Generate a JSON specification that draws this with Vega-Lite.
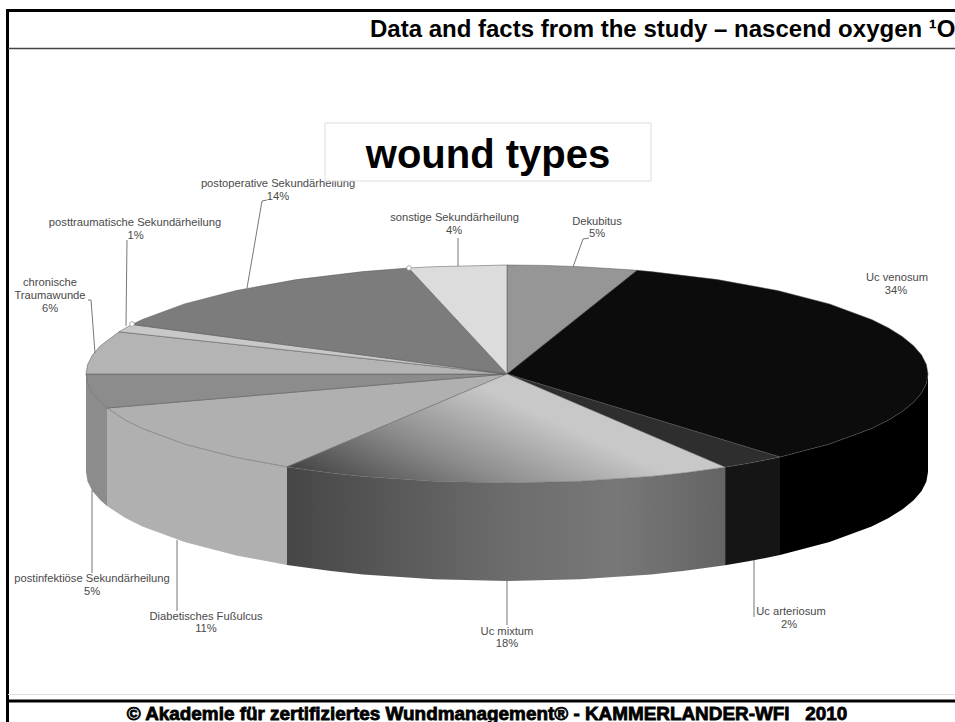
{"$schema":"https://vega.github.io/schema/vega-lite/v6.json","width":955,"height":722,"padding":0,"autosize":{"type":"none"},"background":"white","view":{"stroke":null},
"datasets":{
"wall":[
{"s":"Uc venosum","x":928,"y":374,"y2":472},{"s":"Uc venosum","x":926.4,"y":383.5,"y2":481.5},{"s":"Uc venosum","x":921.6,"y":392.9,"y2":490.9},{"s":"Uc venosum","x":913.6,"y":402.2,"y2":500.2},{"s":"Uc venosum","x":902.6,"y":411.3,"y2":509.3},{"s":"Uc venosum","x":888.6,"y":420.1,"y2":518.1},{"s":"Uc venosum","x":871.6,"y":428.5,"y2":526.5},{"s":"Uc venosum","x":829.5,"y":444.1,"y2":542.1},{"s":"Uc venosum","x":780,"y":457.1,"y2":555.1},
{"s":"Uc arteriosum","x":780,"y":457.1,"y2":555.1},{"s":"Uc arteriosum","x":748.5,"y":463.3,"y2":561.3},{"s":"Uc arteriosum","x":725.1,"y":467.2,"y2":565.2},
{"s":"Uc mixtum","x":725.1,"y":467.2,"y2":565.2},{"s":"Uc mixtum","x":684.9,"y":472.8,"y2":570.8},{"s":"Uc mixtum","x":651,"y":476.4,"y2":574.4},{"s":"Uc mixtum","x":580.1,"y":481.3,"y2":579.3},{"s":"Uc mixtum","x":507,"y":483,"y2":581},{"s":"Uc mixtum","x":433.9,"y":481.3,"y2":579.3},{"s":"Uc mixtum","x":363,"y":476.4,"y2":574.4},{"s":"Uc mixtum","x":329.1,"y":472.8,"y2":570.8},{"s":"Uc mixtum","x":287,"y":466.9,"y2":564.9},
{"s":"Diabetisches Fußulcus","x":287,"y":466.9,"y2":564.9},{"s":"Diabetisches Fußulcus","x":236.4,"y":457.5,"y2":555.5},{"s":"Diabetisches Fußulcus","x":184.5,"y":444.1,"y2":542.1},{"s":"Diabetisches Fußulcus","x":142.4,"y":428.5,"y2":526.5},{"s":"Diabetisches Fußulcus","x":125.4,"y":420.1,"y2":518.1},{"s":"Diabetisches Fußulcus","x":107,"y":408,"y2":506},
{"s":"postinfektiöse Sekundärheilung","x":107,"y":408,"y2":506},{"s":"postinfektiöse Sekundärheilung","x":100.4,"y":402.2,"y2":500.2},{"s":"postinfektiöse Sekundärheilung","x":92.4,"y":392.9,"y2":490.9},{"s":"postinfektiöse Sekundärheilung","x":87.6,"y":383.5,"y2":481.5},{"s":"postinfektiöse Sekundärheilung","x":86,"y":374,"y2":472}
],
"top":[
{"s":"Dekubitus","i":0,"x":507,"y":374},{"s":"Dekubitus","i":1,"x":507,"y":265},{"s":"Dekubitus","i":2,"x":543.7,"y":265.4},{"s":"Dekubitus","i":3,"x":580.1,"y":266.7},{"s":"Dekubitus","i":4,"x":637.1,"y":270.3},{"s":"Dekubitus","i":5,"x":507,"y":374},
{"s":"Uc venosum","i":0,"x":507,"y":374},{"s":"Uc venosum","i":1,"x":637.1,"y":270.3},{"s":"Uc venosum","i":2,"x":651,"y":271.6},{"s":"Uc venosum","i":3,"x":717.5,"y":279.6},{"s":"Uc venosum","i":4,"x":777.6,"y":290.5},{"s":"Uc venosum","i":5,"x":829.5,"y":303.9},{"s":"Uc venosum","i":6,"x":871.6,"y":319.5},{"s":"Uc venosum","i":7,"x":888.6,"y":327.9},{"s":"Uc venosum","i":8,"x":902.6,"y":336.7},{"s":"Uc venosum","i":9,"x":913.6,"y":345.8},{"s":"Uc venosum","i":10,"x":921.6,"y":355.1},{"s":"Uc venosum","i":11,"x":926.4,"y":364.5},{"s":"Uc venosum","i":12,"x":928,"y":374},{"s":"Uc venosum","i":13,"x":926.4,"y":383.5},{"s":"Uc venosum","i":14,"x":921.6,"y":392.9},{"s":"Uc venosum","i":15,"x":913.6,"y":402.2},{"s":"Uc venosum","i":16,"x":902.6,"y":411.3},{"s":"Uc venosum","i":17,"x":888.6,"y":420.1},{"s":"Uc venosum","i":18,"x":871.6,"y":428.5},{"s":"Uc venosum","i":19,"x":829.5,"y":444.1},{"s":"Uc venosum","i":20,"x":780,"y":457.1},{"s":"Uc venosum","i":21,"x":507,"y":374},
{"s":"Uc arteriosum","i":0,"x":507,"y":374},{"s":"Uc arteriosum","i":1,"x":780,"y":457.1},{"s":"Uc arteriosum","i":2,"x":748.5,"y":463.3},{"s":"Uc arteriosum","i":3,"x":725.1,"y":467.2},{"s":"Uc arteriosum","i":4,"x":507,"y":374},
{"s":"Uc mixtum","i":0,"x":507,"y":374},{"s":"Uc mixtum","i":1,"x":725.1,"y":467.2},{"s":"Uc mixtum","i":2,"x":684.9,"y":472.8},{"s":"Uc mixtum","i":3,"x":651,"y":476.4},{"s":"Uc mixtum","i":4,"x":580.1,"y":481.3},{"s":"Uc mixtum","i":5,"x":507,"y":483},{"s":"Uc mixtum","i":6,"x":433.9,"y":481.3},{"s":"Uc mixtum","i":7,"x":363,"y":476.4},{"s":"Uc mixtum","i":8,"x":329.1,"y":472.8},{"s":"Uc mixtum","i":9,"x":287,"y":466.9},{"s":"Uc mixtum","i":10,"x":507,"y":374},
{"s":"Diabetisches Fußulcus","i":0,"x":507,"y":374},{"s":"Diabetisches Fußulcus","i":1,"x":287,"y":466.9},{"s":"Diabetisches Fußulcus","i":2,"x":236.4,"y":457.5},{"s":"Diabetisches Fußulcus","i":3,"x":184.5,"y":444.1},{"s":"Diabetisches Fußulcus","i":4,"x":142.4,"y":428.5},{"s":"Diabetisches Fußulcus","i":5,"x":125.4,"y":420.1},{"s":"Diabetisches Fußulcus","i":6,"x":107,"y":408},{"s":"Diabetisches Fußulcus","i":7,"x":507,"y":374},
{"s":"postinfektiöse Sekundärheilung","i":0,"x":507,"y":374},{"s":"postinfektiöse Sekundärheilung","i":1,"x":107,"y":408},{"s":"postinfektiöse Sekundärheilung","i":2,"x":100.4,"y":402.2},{"s":"postinfektiöse Sekundärheilung","i":3,"x":92.4,"y":392.9},{"s":"postinfektiöse Sekundärheilung","i":4,"x":87.6,"y":383.5},{"s":"postinfektiöse Sekundärheilung","i":5,"x":86,"y":374},{"s":"postinfektiöse Sekundärheilung","i":6,"x":507,"y":374},
{"s":"chronische Traumawunde","i":0,"x":507,"y":374},{"s":"chronische Traumawunde","i":1,"x":86,"y":374},{"s":"chronische Traumawunde","i":2,"x":87.6,"y":364.5},{"s":"chronische Traumawunde","i":3,"x":92.4,"y":355.1},{"s":"chronische Traumawunde","i":4,"x":100.4,"y":345.8},{"s":"chronische Traumawunde","i":5,"x":119,"y":331.8},{"s":"chronische Traumawunde","i":6,"x":507,"y":374},
{"s":"posttraumatische Sekundärheilung","i":0,"x":507,"y":374},{"s":"posttraumatische Sekundärheilung","i":1,"x":119,"y":331.8},{"s":"posttraumatische Sekundärheilung","i":2,"x":131.9,"y":324.5},{"s":"posttraumatische Sekundärheilung","i":3,"x":507,"y":374},
{"s":"postoperative Sekundärheilung","i":0,"x":507,"y":374},{"s":"postoperative Sekundärheilung","i":1,"x":131.9,"y":324.5},{"s":"postoperative Sekundärheilung","i":2,"x":142.4,"y":319.5},{"s":"postoperative Sekundärheilung","i":3,"x":184.5,"y":303.9},{"s":"postoperative Sekundärheilung","i":4,"x":236.4,"y":290.5},{"s":"postoperative Sekundärheilung","i":5,"x":296.5,"y":279.6},{"s":"postoperative Sekundärheilung","i":6,"x":363,"y":271.6},{"s":"postoperative Sekundärheilung","i":7,"x":408.7,"y":268},{"s":"postoperative Sekundärheilung","i":8,"x":507,"y":374},
{"s":"sonstige Sekundärheilung","i":0,"x":507,"y":374},{"s":"sonstige Sekundärheilung","i":1,"x":408.7,"y":268},{"s":"sonstige Sekundärheilung","i":2,"x":433.9,"y":266.7},{"s":"sonstige Sekundärheilung","i":3,"x":507,"y":265},{"s":"sonstige Sekundärheilung","i":4,"x":507,"y":374}
],
"leaders":[
{"s":"postoperative","i":0,"x":247,"y":288},{"s":"postoperative","i":1,"x":262,"y":201},{"s":"postoperative","i":2,"x":267,"y":200},
{"s":"posttraumatische","i":0,"x":126,"y":326},{"s":"posttraumatische","i":1,"x":127,"y":240},
{"s":"chronische","i":0,"x":95,"y":353},{"s":"chronische","i":1,"x":91,"y":300},{"s":"chronische","i":2,"x":88,"y":300},
{"s":"sonstige","i":0,"x":458,"y":266},{"s":"sonstige","i":1,"x":458,"y":238},
{"s":"Dekubitus","i":0,"x":573,"y":267},{"s":"Dekubitus","i":1,"x":583,"y":239},{"s":"Dekubitus","i":2,"x":589,"y":238},
{"s":"mixtum","i":0,"x":507,"y":581},{"s":"mixtum","i":1,"x":507,"y":625},
{"s":"arteriosum","i":0,"x":754,"y":560},{"s":"arteriosum","i":1,"x":754,"y":617},
{"s":"Diabetisches","i":0,"x":177,"y":540},{"s":"Diabetisches","i":1,"x":177,"y":611},
{"s":"postinfektiöse","i":0,"x":92,"y":490},{"s":"postinfektiöse","i":1,"x":92,"y":573}
],
"dots":[{"x":132,"y":324},{"x":409,"y":268}],
"labels":[
{"t":"postoperative Sekundärheilung","x":278,"y":184},{"t":"14%","x":278,"y":197},
{"t":"posttraumatische Sekundärheilung","x":135,"y":223},{"t":"1%","x":135.5,"y":236},
{"t":"chronische","x":50,"y":283},{"t":"Traumawunde","x":50,"y":296},{"t":"6%","x":50,"y":309},
{"t":"sonstige Sekundärheilung","x":454.5,"y":218},{"t":"4%","x":454,"y":231},
{"t":"Dekubitus","x":597,"y":221.5},{"t":"5%","x":597,"y":234},
{"t":"Uc venosum","x":897,"y":278},{"t":"34%","x":896,"y":291},
{"t":"Uc arteriosum","x":791,"y":612},{"t":"2%","x":789,"y":625},
{"t":"Uc mixtum","x":507,"y":632},{"t":"18%","x":507,"y":644},
{"t":"Diabetisches Fußulcus","x":206,"y":617},{"t":"11%","x":206,"y":629},
{"t":"postinfektiöse Sekundärheilung","x":92,"y":579},{"t":"5%","x":92,"y":592}
]
},
"encoding":{},
"layer":[
{"data":{"name":"wall"},"transform":[{"filter":"datum.s !== 'Uc mixtum'"}],"mark":{"type":"area","orient":"vertical"},"encoding":{
"x":{"field":"x","type":"quantitative","scale":{"domain":[0,955],"nice":false,"zero":false},"axis":null},
"y":{"field":"y","type":"quantitative","scale":{"domain":[722,0],"nice":false,"zero":false},"axis":null},
"y2":{"field":"y2"},
"fill":{"field":"s","type":"nominal","legend":null,"scale":{"domain":["Uc venosum","Uc arteriosum","Diabetisches Fußulcus","postinfektiöse Sekundärheilung"],"range":["#000000","#151515","#b0b0b0","#8c8c8c"]}}}},
{"data":{"name":"wall"},"transform":[{"filter":"datum.s === 'Uc mixtum'"}],"mark":{"type":"area","orient":"vertical","fill":{"gradient":"linear","x1":0,"y1":0,"x2":1,"y2":0,"stops":[{"offset":0,"color":"#464646"},{"offset":0.5,"color":"#6c6c6c"},{"offset":0.75,"color":"#787878"},{"offset":1,"color":"#646464"}]}},"encoding":{
"x":{"field":"x","type":"quantitative","scale":{"domain":[0,955],"nice":false,"zero":false},"axis":null},
"y":{"field":"y","type":"quantitative","scale":{"domain":[722,0],"nice":false,"zero":false},"axis":null},
"y2":{"field":"y2"}}},
{"data":{"name":"top"},"transform":[{"filter":"datum.s !== 'Uc mixtum'"}],"mark":{"type":"line","stroke":"#555555","strokeWidth":0.5,"strokeJoin":"round"},"encoding":{
"x":{"field":"x","type":"quantitative","axis":null},
"y":{"field":"y","type":"quantitative","axis":null},
"order":{"field":"i","type":"quantitative"},
"detail":{"field":"s","type":"nominal"},
"fill":{"field":"s","type":"nominal","legend":null,"scale":{"domain":["Dekubitus","Uc venosum","Uc arteriosum","Diabetisches Fußulcus","postinfektiöse Sekundärheilung","chronische Traumawunde","posttraumatische Sekundärheilung","postoperative Sekundärheilung","sonstige Sekundärheilung"],"range":["#969696","#0c0c0c","#2e2e2e","#b0b0b0","#8c8c8c","#b4b4b4","#c8c8c8","#7c7c7c","#dcdcdc"]}}}},
{"data":{"name":"top"},"transform":[{"filter":"datum.s === 'Uc mixtum'"}],"mark":{"type":"line","stroke":"#666666","strokeWidth":0.5,"fill":{"gradient":"linear","x1":0,"y1":0.855,"x2":0.65,"y2":0.506,"stops":[{"offset":0,"color":"#444444"},{"offset":0.5,"color":"#8c8c8c"},{"offset":1,"color":"#c8c8c8"}]}},"encoding":{
"x":{"field":"x","type":"quantitative","axis":null},
"y":{"field":"y","type":"quantitative","axis":null},
"order":{"field":"i","type":"quantitative"}}},
{"data":{"name":"leaders"},"mark":{"type":"line","stroke":"#777777","strokeWidth":1},"encoding":{
"x":{"field":"x","type":"quantitative","axis":null},
"y":{"field":"y","type":"quantitative","axis":null},
"order":{"field":"i","type":"quantitative"},
"detail":{"field":"s","type":"nominal"}}},
{"data":{"name":"dots"},"mark":{"type":"point","filled":true,"fill":"white","stroke":"#999999","strokeWidth":0.8,"size":22,"opacity":1},"encoding":{
"x":{"field":"x","type":"quantitative","axis":null},
"y":{"field":"y","type":"quantitative","axis":null}}},
{"data":{"name":"labels"},"mark":{"type":"text","font":"Liberation Sans","fontSize":11.2,"fill":"#4a4a4a","align":"center","baseline":"middle"},"encoding":{
"x":{"field":"x","type":"quantitative","axis":null},
"y":{"field":"y","type":"quantitative","axis":null},
"text":{"field":"t"}}},
{"data":{"values":[{"x":325,"x2":651,"y":123,"y2":181}]},"mark":{"type":"rect","fill":"white","stroke":"#dddddd","strokeWidth":1},"encoding":{
"x":{"field":"x","type":"quantitative","axis":null},"x2":{"field":"x2"},
"y":{"field":"y","type":"quantitative","axis":null},"y2":{"field":"y2"}}},
{"data":{"values":[{"t":"wound types","x":488,"y":168}]},"mark":{"type":"text","font":"Liberation Sans","fontWeight":"bold","fontSize":40,"fill":"#000000","align":"center","baseline":"alphabetic"},"encoding":{
"x":{"field":"x","type":"quantitative","axis":null},
"y":{"field":"y","type":"quantitative","axis":null},
"text":{"field":"t"}}},
{"data":{"values":[{"t":"Data and facts from the study – nascend oxygen ¹O","x":370,"y":37}]},"mark":{"type":"text","font":"Liberation Sans","fontWeight":"bold","fontSize":24,"fill":"#000000","align":"left","baseline":"alphabetic"},"encoding":{
"x":{"field":"x","type":"quantitative","axis":null},
"y":{"field":"y","type":"quantitative","axis":null},
"text":{"field":"t"}}},
{"data":{"values":[{"t":"© Akademie für zertifiziertes Wundmanagement® - KAMMERLANDER-WFI\u00a0\u00a0\u00a02010","x":487,"y":720}]},"mark":{"type":"text","font":"Liberation Sans","fontWeight":"bold","fontSize":18.9,"fill":"#000000","stroke":"#000000","strokeWidth":0.8,"align":"center","baseline":"alphabetic"},"encoding":{
"x":{"field":"x","type":"quantitative","axis":null},
"y":{"field":"y","type":"quantitative","axis":null},
"text":{"field":"t"}}},
{"data":{"values":[{"x":6,"x2":955,"y":10.5,"y2":10.5},{"x":7.5,"x2":7.5,"y":9,"y2":722},{"x":7,"x2":955,"y":701,"y2":701}]},"mark":{"type":"rule","stroke":"#000000","strokeWidth":3},"encoding":{
"x":{"field":"x","type":"quantitative","axis":null},"x2":{"field":"x2"},
"y":{"field":"y","type":"quantitative","axis":null},"y2":{"field":"y2"}}},
{"data":{"values":[{"x":8,"x2":955,"y":48.5,"y2":48.5}]},"mark":{"type":"rule","stroke":"#444444","strokeWidth":1.5},"encoding":{
"x":{"field":"x","type":"quantitative","axis":null},"x2":{"field":"x2"},
"y":{"field":"y","type":"quantitative","axis":null},"y2":{"field":"y2"}}},
{"data":{"values":[{"x":8,"x2":955,"y":694.5,"y2":694.5}]},"mark":{"type":"rule","stroke":"#dddddd","strokeWidth":1},"encoding":{
"x":{"field":"x","type":"quantitative","axis":null},"x2":{"field":"x2"},
"y":{"field":"y","type":"quantitative","axis":null},"y2":{"field":"y2"}}}
],
"resolve":{"scale":{"fill":"independent"}}}
